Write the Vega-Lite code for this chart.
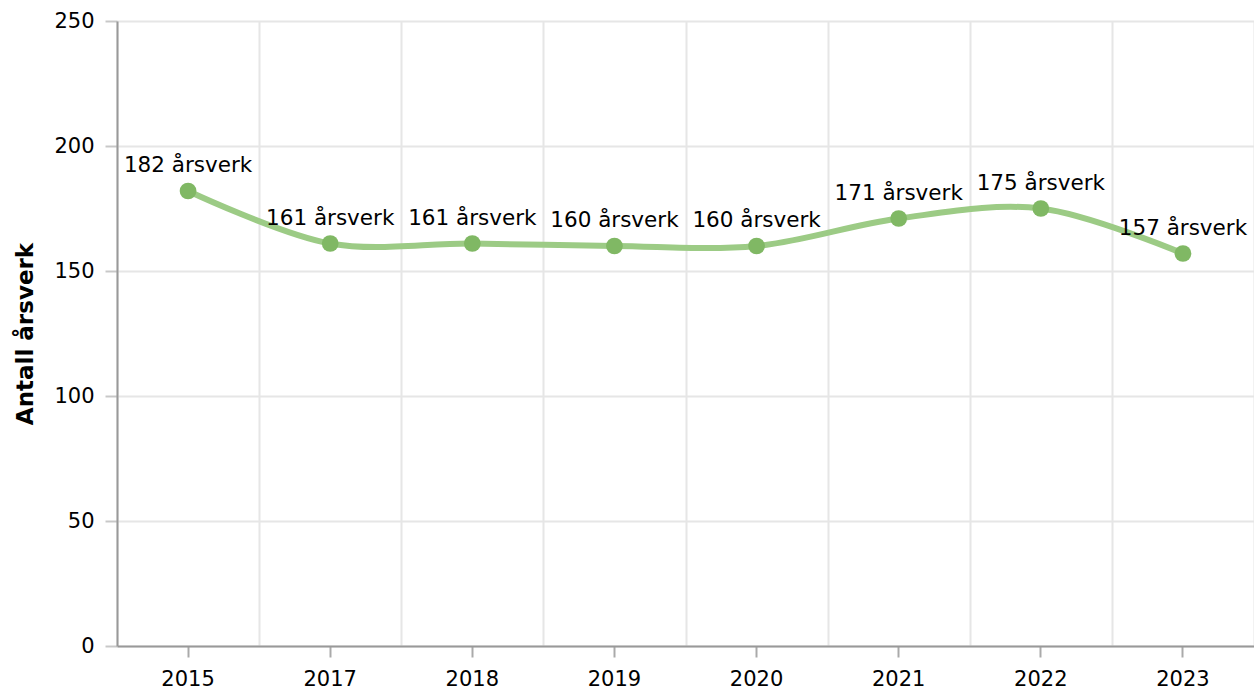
{
  "$schema": "https://vega.github.io/schema/vega-lite/v6.json",
  "width": 1137,
  "height": 625,
  "autosize": {"type": "none"},
  "padding": {"left": 117, "top": 21, "right": 0, "bottom": 49},
  "background": "white",
  "config": {
    "view": {"stroke": null},
    "font": "DejaVu Sans",
    "axis": {"labelFont": "DejaVu Sans", "titleFont": "DejaVu Sans", "labelColor": "#000", "titleColor": "#000"}
  },
  "data": {
    "values": [
      {"year": "2015", "value": 182, "label": "182 årsverk"},
      {"year": "2017", "value": 161, "label": "161 årsverk"},
      {"year": "2018", "value": 161, "label": "161 årsverk"},
      {"year": "2019", "value": 160, "label": "160 årsverk"},
      {"year": "2020", "value": 160, "label": "160 årsverk"},
      {"year": "2021", "value": 171, "label": "171 årsverk"},
      {"year": "2022", "value": 175, "label": "175 årsverk"},
      {"year": "2023", "value": 157, "label": "157 årsverk"}
    ]
  },
  "encoding": {
    "y": {
      "field": "value", "type": "quantitative",
      "scale": {"domain": [0, 250], "nice": false, "zero": true},
      "axis": {
        "values": [0, 50, 100, 150, 200, 250],
        "title": "Antall årsverk",
        "titleFontSize": 23, "titleFontWeight": "bold", "titlePadding": 16,
        "labelFontSize": 21, "labelPadding": 11,
        "tickSize": 12, "tickColor": "#c8c8c8", "tickWidth": 2,
        "domainColor": "#999", "domainWidth": 2,
        "gridColor": "#e6e6e6", "gridWidth": 2
      }
    }
  },
  "layer": [
    {
      "mark": {"type": "line", "interpolate": "catmull-rom", "color": "#9ccb85", "strokeWidth": 6},
      "encoding": {
        "x": {
          "field": "year", "type": "ordinal",
          "scale": {"type": "band", "paddingInner": 0, "paddingOuter": 0},
          "axis": {"title": null, "grid": true, "tickBand": "extent", "gridColor": "#e6e6e6", "gridWidth": 2, "ticks": false, "labels": false, "domain": false, "orient": "bottom"}
        }
      }
    },
    {
      "mark": {"type": "circle", "color": "#80b864", "size": 280, "opacity": 1},
      "encoding": {
        "x": {
          "field": "year", "type": "ordinal",
          "scale": {"type": "band", "paddingInner": 0, "paddingOuter": 0},
          "axis": {"title": null, "grid": false, "orient": "bottom", "labelAngle": 0, "labelFontSize": 21, "labelPadding": 11, "tickSize": 11, "tickColor": "#aaa", "tickWidth": 2, "domainColor": "#999", "domainWidth": 2}
        }
      }
    },
    {
      "mark": {"type": "text", "fontSize": 21.5, "dy": -25, "align": "center", "baseline": "middle", "color": "#000"},
      "encoding": {
        "x": {"field": "year", "type": "ordinal", "scale": {"type": "band", "paddingInner": 0, "paddingOuter": 0}, "axis": null},
        "text": {"field": "label"}
      }
    }
  ],
  "resolve": {"axis": {"x": "independent"}}
}
